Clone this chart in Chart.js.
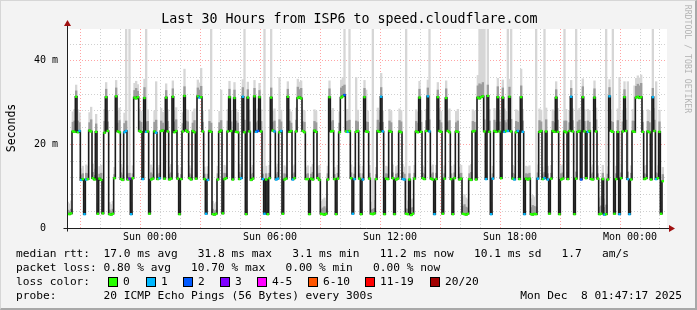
<!DOCTYPE html>
<html>
<head>
<meta charset="utf-8">
<script src="https://cdn.jsdelivr.net/npm/chart.js@4.4.1/dist/chart.umd.min.js"></script>
<style>
body { margin: 0; background: #fff; }
#wrap { position: relative; width: 697px; height: 310px; background: #f3f3f3; overflow: hidden;
        font-family: "DejaVu Sans Mono", monospace; color: #000; box-sizing: border-box;
        border-top: 1px solid #d6d6d6; border-left: 1px solid #d6d6d6; border-right: 2px solid #a8a8a8; border-bottom: 2px solid #a8a8a8; }
canvas { position: absolute; left: -1px; top: -1px; }
.txt { position: absolute; white-space: pre; font-size: 11.2px; line-height: 14px; }
#title { position: absolute; left: 0; top: 10px; width: 697px; text-align: center; font-size: 13.3px; line-height: 16px; white-space: pre; }
#ytitle { position: absolute; left: -20px; top: 120px; width: 60px; text-align: center; font-size: 11.5px; line-height: 14px; transform: rotate(-90deg); }
#credit { position: absolute; left: 632px; top: 53px; width: 110px; text-align: center; font-size: 8.2px; line-height: 10px; color: #b4b4b4; transform: rotate(90deg); white-space: pre; }
.box { position: absolute; width: 8px; height: 8px; border: 1px solid #000; }
</style>
</head>
<body>
<div id="wrap">
<canvas id="myChart" width="697" height="310"></canvas>
<div id="title">Last 30 Hours from ISP6 to speed.cloudflare.com</div>
<div id="ytitle">Seconds</div>
<div id="credit">RRDTOOL / TOBI OETIKER</div>
<div class="txt" style="left:15px;top:246px">median rtt:  17.0 ms avg   31.8 ms max   3.1 ms min   11.2 ms now   10.1 ms sd   1.7   am/s</div>
<div class="txt" style="left:15px;top:260px">packet loss: 0.80 % avg   10.70 % max   0.00 % min   0.00 % now</div>
<div class="txt" id="lossrow" style="left:15px;top:274px">loss color:</div>
<div class="txt" style="left:15px;top:288px">probe:       20 ICMP Echo Pings (56 Bytes) every 300s</div>
<div class="txt" style="left:500px;top:288px;width:181px;text-align:right">Mon Dec  8 01:47:17 2025</div>
</div>
<script>
// 5 minute samples, Sat 19:51 .. Mon 01:51, one hour per row (ms)
const median = [
  3.4, 3.3, 3.5, 23.1, 23.0, 31.4, 22.9, 23.2, 11.5, 11.7, 3.3, 11.6,
  11.7, 23.3, 23.1, 11.9, 11.6, 23.0, 3.4, 11.8, 11.5, 3.5, 22.8, 31.3,
  23.2, 3.3, 3.2, 3.4, 11.9, 31.5, 23.1, 22.9, 11.7, 11.5, 22.9, 23.2,
  11.6, 11.8, 3.3, 11.9, 31.2, 31.0, 31.3, 23.2, 23.0, 11.7, 31.1, 23.0,
  23.1, 3.4, 11.6, 11.8, 23.1, 22.8, 11.7, 11.9, 23.2, 23.3, 11.8, 31.2,
  23.1, 11.6, 11.8, 31.4, 22.9, 23.2, 11.8, 3.3, 11.7, 23.1, 31.6, 23.3,
  23.0, 11.9, 11.6, 23.2, 22.9, 11.8, 31.5, 31.2, 31.3, 23.1, 11.7, 3.4,
  11.5, 23.2, 23.0, 3.3, 3.2, 3.4, 11.6, 23.0, 23.3, 3.5, 11.7, 11.9,
  23.1, 31.3, 23.2, 11.6, 31.1, 23.0, 22.9, 11.7, 11.9, 31.4, 22.9, 3.3,
  31.2, 23.1, 11.5, 11.8, 31.5, 23.0, 23.2, 31.3, 23.1, 11.7, 3.4, 11.6,
  3.3, 11.9, 31.2, 23.3, 23.1, 11.6, 11.8, 22.9, 23.2, 3.4, 11.6, 11.8,
  31.4, 23.0, 23.2, 11.6, 11.9, 23.1, 31.1, 31.3, 31.0, 23.2, 22.9, 11.7,
  11.7, 3.3, 11.8, 11.6, 23.3, 23.0, 11.9, 11.5, 3.4, 3.3, 3.2, 3.4,
  11.6, 31.3, 23.1, 23.2, 11.7, 3.3, 11.8, 22.9, 31.2, 31.5, 31.8, 23.1,
  23.0, 23.2, 11.9, 3.4, 11.7, 23.0, 23.2, 11.8, 3.3, 11.6, 31.3, 23.1,
  23.0, 11.8, 3.4, 3.3, 3.5, 11.7, 23.2, 23.0, 31.4, 23.1, 3.3, 11.8,
  11.7, 23.2, 23.0, 11.9, 3.3, 11.6, 11.8, 23.1, 22.9, 11.7, 11.6, 3.4,
  3.3, 11.6, 3.1, 3.4, 11.8, 23.1, 22.9, 31.2, 23.0, 11.9, 11.7, 23.2,
  31.5, 23.1, 11.8, 11.6, 3.3, 11.7, 31.3, 23.2, 23.0, 3.4, 11.8, 31.1,
  23.2, 22.9, 11.7, 3.3, 11.9, 23.1, 23.0, 11.6, 11.8, 3.4, 3.3, 3.2,
  3.4, 11.7, 11.5, 23.1, 23.2, 11.6, 31.2, 31.0, 31.3, 31.5, 23.1, 11.7,
  31.6, 23.0, 3.3, 11.8, 23.2, 23.0, 31.3, 23.1, 11.9, 31.2, 23.0, 23.2,
  23.2, 31.4, 23.1, 11.8, 11.6, 22.9, 23.2, 11.7, 31.3, 23.0, 3.3, 11.8,
  11.6, 11.8, 3.3, 3.2, 3.4, 3.3, 11.8, 23.0, 23.2, 11.7, 11.9, 23.1,
  11.6, 3.4, 11.8, 23.2, 23.0, 31.2, 23.0, 3.3, 11.6, 11.8, 23.1, 22.9,
  11.7, 23.2, 31.4, 23.1, 3.3, 11.8, 23.0, 23.2, 11.6, 31.3, 23.1, 11.9,
  23.0, 23.2, 11.7, 11.6, 31.2, 23.1, 11.8, 3.3, 3.4, 11.7, 3.2, 3.3,
  11.6, 31.5, 23.2, 23.0, 3.4, 11.7, 23.0, 3.3, 11.9, 23.1, 31.3, 23.2,
  11.7, 3.3, 11.6, 23.1, 23.0, 31.2, 31.4, 31.1, 31.3, 23.0, 11.7, 11.9,
  23.1, 22.9, 11.6, 31.3, 23.2, 11.7, 11.9, 23.0, 3.4, 11.2, null, null
];

// slowest ping of each sample (top of the light smoke)
const smokeTop = [
  6.2, 5.8, 6.5, 27.8, 28.4, 34.2, 28.3, 27.6, 14.2, 14.8, 6.0, 15.1,
  14.8, 27.6, 28.9, 15.3, 14.1, 27.2, 5.9, 14.7, 15.0, 6.3, 28.4, 34.8,
  28.1, 6.1, 5.6, 6.4, 14.5, 35.3, 27.9, 28.7, 15.2, 14.4, 27.5, 50,
  14.9, 50, 6.2, 14.9, 34.6, 35.1, 34.3, 28.5, 27.9, 14.6, 35.6, 50,
  28.3, 6.0, 15.1, 14.4, 28.0, 35.0, 14.4, 15.0, 28.6, 27.7, 14.8, 34.5,
  28.3, 14.6, 15.2, 35.2, 28.1, 28.8, 15.0, 6.3, 14.5, 27.6, 38.0, 28.4,
  28.2, 14.9, 14.3, 27.8, 28.5, 15.1, 35.4, 34.7, 38.2, 28.0, 14.6, 6.1,
  14.7, 28.3, 50, 6.4, 5.8, 6.2, 14.8, 27.9, 33.0, 6.0, 15.0, 14.6,
  28.4, 35.1, 28.1, 14.9, 34.8, 28.4, 27.7, 15.2, 14.6, 35.5, 50, 6.3,
  34.9, 28.2, 14.5, 15.0, 35.3, 27.9, 28.5, 34.6, 28.3, 14.7, 50, 14.8,
  6.1, 15.0, 50, 28.0, 28.5, 14.6, 15.3, 36.0, 28.2, 6.2, 14.9, 14.5,
  35.0, 28.4, 27.8, 14.7, 15.1, 28.7, 35.6, 34.9, 35.2, 28.2, 28.0, 14.5,
  14.9, 6.0, 14.6, 15.2, 28.3, 27.9, 14.7, 15.0, 6.4, 6.8, 7.2, 6.5,
  14.8, 35.2, 28.1, 28.6, 14.5, 6.2, 15.0, 27.8, 35.4, 36.0, 50, 28.3,
  28.4, 50, 15.1, 6.1, 14.6, 36.0, 28.2, 14.9, 6.3, 14.8, 35.3, 33.0,
  28.0, 15.0, 6.2, 50, 6.6, 14.5, 28.7, 27.9, 37.0, 28.0, 6.1, 14.8,
  14.6, 28.4, 27.9, 15.1, 6.3, 14.7, 15.0, 28.5, 28.1, 15.2, 14.6, 50,
  6.5, 14.8, 6.8, 7.0, 15.0, 28.3, 27.8, 35.1, 28.0, 14.9, 14.5, 28.4,
  35.4, 50, 14.7, 15.1, 6.2, 15.0, 34.8, 28.6, 27.9, 6.4, 14.9, 35.2,
  28.1, 28.5, 14.8, 6.1, 15.1, 27.9, 28.4, 14.6, 15.0, 7.5, 8.0, 7.2,
  6.8, 14.9, 15.2, 28.3, 28.0, 14.7, 36.5, 50, 50, 50, 50, 15.0,
  50, 28.4, 6.2, 14.8, 28.6, 28.1, 35.8, 28.2, 14.6, 35.4, 28.5, 27.9,
  50, 35.6, 50, 15.0, 14.7, 28.3, 28.0, 15.2, 38.0, 28.4, 6.3, 14.8,
  14.6, 14.9, 7.0, 7.8, 7.4, 50, 15.1, 28.5, 28.2, 14.6, 50, 28.7,
  14.8, 6.2, 15.0, 28.3, 28.0, 35.0, 28.6, 6.4, 14.9, 15.1, 50, 28.4,
  15.2, 28.0, 35.3, 28.5, 6.1, 50, 28.2, 28.6, 14.8, 35.7, 28.3, 15.0,
  28.4, 28.1, 14.6, 15.1, 35.2, 28.7, 14.9, 7.2, 7.6, 15.0, 7.0, 50,
  14.7, 35.5, 28.3, 50, 6.3, 14.8, 28.5, 36.0, 15.1, 28.2, 35.0, 28.6,
  35.0, 6.2, 14.9, 28.4, 34.0, 35.8, 36.4, 35.9, 36.6, 28.1, 14.8, 15.0,
  28.3, 28.0, 14.7, 50, 28.6, 35.0, 14.9, 28.2, 6.3, 14.5, null, null
];

// upper quartile of each sample (top of the dark smoke)
const smokeMid = [
  4.3, 4.1, 4.5, 25.3, 25.6, 32.8, 25.6, 25.2, 12.7, 13.0, 4.2, 13.1,
  13.0, 25.2, 25.9, 13.3, 12.6, 24.9, 4.2, 12.9, 13.1, 4.4, 25.5, 33.2,
  25.4, 4.3, 4.0, 4.5, 12.8, 33.5, 25.1, 25.7, 13.2, 12.7, 25.0, 25.6,
  13.0, 13.1, 4.3, 13.0, 32.9, 33.4, 32.7, 25.6, 25.3, 12.8, 33.6, 25.4,
  25.5, 4.2, 13.2, 12.8, 25.3, 25.8, 12.8, 13.1, 25.6, 25.1, 13.0, 32.9,
  25.5, 12.9, 13.2, 33.3, 25.4, 25.9, 13.1, 4.4, 12.8, 25.0, 33.8, 25.6,
  25.4, 13.0, 12.7, 25.1, 25.7, 13.2, 33.5, 33.0, 33.9, 25.3, 12.9, 4.3,
  12.9, 25.5, 25.1, 4.5, 4.1, 4.3, 13.0, 25.2, 25.7, 4.2, 13.1, 13.0,
  25.6, 33.2, 25.4, 13.0, 33.0, 25.6, 25.1, 13.3, 12.9, 33.6, 25.8, 4.4,
  33.1, 25.4, 12.8, 13.1, 33.4, 25.2, 25.6, 32.9, 25.5, 12.9, 4.3, 13.0,
  4.2, 13.1, 33.5, 25.3, 25.6, 12.9, 13.3, 25.9, 25.4, 4.3, 13.0, 12.8,
  33.2, 25.6, 25.1, 12.9, 13.2, 25.8, 33.7, 33.1, 33.4, 25.4, 25.3, 12.8,
  13.0, 4.2, 12.9, 13.3, 25.5, 25.2, 12.9, 13.1, 4.5, 4.8, 5.1, 4.6,
  13.0, 33.3, 25.4, 25.7, 12.8, 4.3, 13.1, 25.1, 33.5, 33.9, 34.2, 25.5,
  25.6, 25.8, 13.2, 4.2, 12.9, 25.6, 25.4, 13.0, 4.4, 13.0, 33.4, 25.4,
  25.3, 13.1, 4.3, 4.5, 4.7, 12.8, 25.8, 25.2, 33.6, 25.3, 4.2, 13.0,
  12.9, 25.6, 25.2, 13.2, 4.4, 12.9, 13.1, 25.7, 25.4, 13.3, 12.9, 4.6,
  4.5, 13.0, 4.8, 4.9, 13.1, 25.5, 25.1, 33.2, 25.3, 13.1, 12.8, 25.7,
  33.5, 25.9, 12.9, 13.2, 4.3, 13.1, 33.0, 25.8, 25.2, 4.5, 13.0, 33.3,
  25.4, 25.7, 13.0, 4.2, 13.2, 25.2, 25.6, 12.9, 13.1, 5.2, 5.6, 5.0,
  4.8, 13.0, 13.3, 25.5, 25.3, 12.9, 34.0, 34.5, 34.3, 34.8, 25.9, 13.1,
  34.2, 25.6, 4.3, 13.0, 25.8, 25.3, 33.8, 25.4, 12.9, 33.5, 25.7, 25.2,
  25.9, 33.7, 26.0, 13.1, 12.9, 25.5, 25.3, 13.3, 34.0, 25.6, 4.4, 13.0,
  12.9, 13.1, 4.9, 5.4, 5.2, 5.0, 13.2, 25.7, 25.4, 12.9, 13.3, 25.9,
  13.0, 4.3, 13.1, 25.5, 25.2, 33.1, 25.8, 4.5, 13.0, 13.2, 25.6, 25.6,
  13.3, 25.2, 33.4, 25.7, 4.2, 13.4, 25.4, 25.8, 13.0, 33.8, 25.5, 13.1,
  25.6, 25.3, 12.9, 13.2, 33.3, 25.9, 13.0, 5.0, 5.3, 13.1, 4.9, 5.5,
  12.9, 33.6, 25.5, 25.3, 4.4, 13.0, 25.7, 4.6, 13.2, 25.4, 33.1, 25.8,
  13.4, 4.3, 13.1, 25.6, 25.5, 33.9, 34.4, 34.0, 34.6, 25.3, 13.0, 12.8,
  25.5, 25.2, 12.9, 33.4, 25.8, 13.2, 13.0, 25.4, 4.4, 12.8, null, null
];

// lost pings out of 20 per sample
const loss = [
  0,0,0,0,0,0,0,1,1,0,1,1,
  0,0,0,0,0,0,0,0,0,0,0,0,
  0,0,0,0,0,0,0,0,0,0,1,1,
  0,3,1,0,0,0,0,0,0,1,0,1,
  0,0,0,0,0,1,0,1,0,0,0,0,
  0,0,0,0,0,0,0,0,0,0,0,0,
  0,0,0,0,0,0,0,1,0,0,0,1,
  1,0,0,0,0,0,0,0,0,0,0,0,
  0,0,0,0,0,0,0,0,1,1,0,0,
  0,0,0,0,0,1,2,0,0,1,1,0,
  0,0,0,0,1,1,1,0,1,0,0,0,
  0,0,0,1,0,0,0,0,0,0,0,0,
  0,0,0,0,0,0,0,0,0,0,0,0,
  0,0,0,0,0,0,0,0,0,0,2,0,
  1,0,0,1,1,0,0,0,0,1,0,0,
  0,0,0,0,0,0,0,0,1,1,0,0,
  0,0,0,0,0,0,0,0,0,1,1,0,
  0,0,0,0,0,0,0,0,0,0,0,0,
  1,1,0,0,1,0,0,0,0,0,0,0,
  0,0,0,0,0,0,0,0,0,0,0,0,
  0,0,0,0,0,0,0,0,0,0,0,1,
  0,0,1,1,0,0,0,0,0,0,1,0,
  1,0,0,0,1,0,1,0,0,1,1,0,
  0,0,0,0,0,0,1,0,0,0,1,0,
  1,0,0,0,0,0,0,0,0,0,0,0,
  0,0,1,0,0,0,0,0,2,0,0,0,
  1,0,0,0,0,0,0,0,0,0,1,0,
  0,1,0,0,0,0,0,1,0,0,0,0,
  1,1,0,0,0,0,0,0,0,0,0,0,
  0,0,0,1,0,1,0,0,0,0,0,0
];

const lossColors = ['#26ff00', '#00b8ff', '#0059ff', '#7e00ff', '#ff00ff', '#ff5500', '#ff0000', '#a10000'];
const lossLabels = ['0', '1', '2', '3', '4-5', '6-10', '11-19', '20/20'];

const tickHours = [0, 6, 12, 18, 24];
const tickLabels = ['Sun 00:00', 'Sun 06:00', 'Sun 12:00', 'Sun 18:00', 'Mon 00:00'];

// hours relative to Sun 00:00
const firstHour = -4.15;
const lastHour = 25.85;
const stepHours = 5 / 60;

const xs = median.map((v, i) => firstHour + (i + 0.5) * stepHours);

// loss colour legend boxes
const lossX = [108, 146, 183, 220, 257, 308, 365, 430];
const wrap = document.getElementById('wrap');
lossLabels.forEach((lab, i) => {
    const b = document.createElement('div');
    b.className = 'box';
    b.style.left = (lossX[i] - 1) + 'px';
    b.style.top = '276px';
    b.style.background = lossColors[i];
    wrap.appendChild(b);
    const t = document.createElement('div');
    t.className = 'txt';
    t.style.left = (lossX[i] + 14) + 'px';
    t.style.top = '274px';
    t.textContent = lab;
    wrap.appendChild(t);
});

const majorRed = 'rgba(255, 90, 90, 0.55)';
const minorGray = 'rgba(150, 150, 150, 0.45)';
const tickFont = { family: 'DejaVu Sans Mono', size: 10 };

const frame = {
    id: 'frame',
    beforeDraw(chart) {
        const a = chart.chartArea;
        const ctx = chart.ctx;
        ctx.save();
        ctx.fillStyle = '#ffffff';
        ctx.fillRect(a.left, a.top, a.right - a.left, a.bottom - a.top);
        ctx.restore();
    },
    afterDatasetsDraw(chart) {
        const a = chart.chartArea;
        const ctx = chart.ctx;
        const x0 = Math.round(a.left) + 0.5;
        const y0 = Math.round(a.bottom) + 0.5;
        ctx.save();
        ctx.strokeStyle = '#1e1e1e';
        ctx.lineWidth = 1;
        ctx.beginPath();
        ctx.moveTo(x0, y0 + 3);
        ctx.lineTo(x0, a.top - 6);
        ctx.moveTo(x0 - 4, y0);
        ctx.lineTo(a.right + 2, y0);
        ctx.stroke();
        ctx.fillStyle = '#a01010';
        ctx.beginPath();
        ctx.moveTo(x0, a.top - 9);
        ctx.lineTo(x0 - 3.5, a.top - 3);
        ctx.lineTo(x0 + 3.5, a.top - 3);
        ctx.closePath();
        ctx.fill();
        ctx.beginPath();
        ctx.moveTo(a.right + 8, y0);
        ctx.lineTo(a.right + 2, y0 - 3.5);
        ctx.lineTo(a.right + 2, y0 + 3.5);
        ctx.closePath();
        ctx.fill();
        ctx.restore();
    }
};

const data = {
    datasets: [{
        type: 'line',
        data: xs.map((x, i) => ({ x: x, y: median[i] })),
        borderColor: '#1c1c1c',
        borderWidth: 1.6,
        stepped: 'middle',
        pointStyle: 'rect',
        pointRadius: 1.7,
        pointBorderWidth: 0,
        pointBackgroundColor: loss.map(l => lossColors[l]),
        spanGaps: false,
        order: 1
    }, {
        type: 'bar',
        data: xs.map((x, i) => ({ x: x, y: smokeMid[i] == null ? null : [median[i], smokeMid[i]] })),
        backgroundColor: '#9c9c9c',
        barPercentage: 1,
        categoryPercentage: 1,
        grouped: false,
        order: 2
    }, {
        type: 'bar',
        data: xs.map((x, i) => ({ x: x, y: smokeTop[i] == null ? null : [median[i], smokeTop[i]] })),
        backgroundColor: '#d6d6d6',
        barPercentage: 1,
        categoryPercentage: 1,
        grouped: false,
        order: 3
    }]
};

const config = {
    type: 'bar',
    data: data,
    plugins: [frame],
    options: {
        responsive: false,
        animation: false,
        layout: { padding: { top: 29, right: 30, left: 0, bottom: 0 } },
        plugins: { legend: { display: false }, tooltip: { enabled: false } },
        scales: {
            x: {
                type: 'linear',
                min: firstHour,
                max: lastHour,
                offset: false,
                afterBuildTicks: s => {
                    const t = [];
                    for (let h = Math.ceil(firstHour); h <= lastHour; h++) t.push({ value: h });
                    s.ticks = t;
                },
                afterFit: s => { s.height = 82; },
                ticks: {
                    autoSkip: false,
                    maxRotation: 0,
                    padding: 3,
                    color: '#000',
                    font: tickFont,
                    callback: v => {
                        const k = tickHours.indexOf(v);
                        return k < 0 ? '' : tickLabels[k];
                    }
                },
                grid: {
                    drawTicks: false,
                    color: c => (c.tick && c.tick.value % 3 === 0) ? majorRed : minorGray
                },
                border: { display: false, dash: [1, 2] }
            },
            y: {
                min: 0,
                max: 47.6,
                afterBuildTicks: s => {
                    const t = [];
                    for (let v = 0; v <= 46; v += 2) t.push({ value: v });
                    s.ticks = t;
                },
                afterFit: s => { s.width = 67; },
                ticks: {
                    padding: 9,
                    color: '#000',
                    font: tickFont,
                    callback: v => v % 10 !== 0 ? '' : (v === 0 ? '0  ' : v + ' m')
                },
                grid: {
                    drawTicks: false,
                    color: c => (c.tick && c.tick.value % 10 === 0) ? majorRed : minorGray
                },
                border: { display: false, dash: [1, 2] }
            }
        }
    }
};

const myChart = new Chart(document.getElementById('myChart'), config);
</script>
</body>
</html>
